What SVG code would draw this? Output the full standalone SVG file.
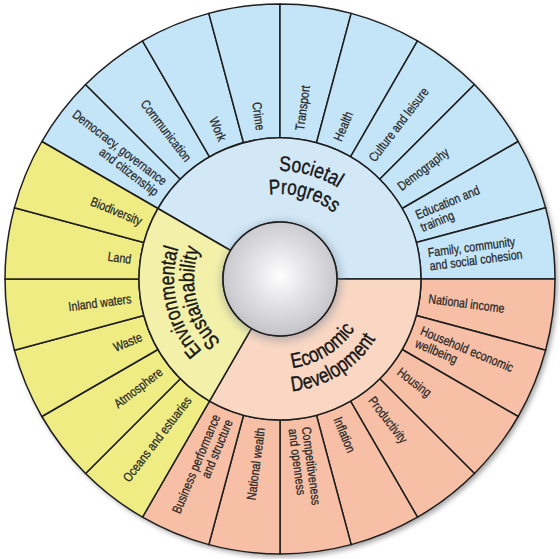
<svg xmlns="http://www.w3.org/2000/svg" width="560" height="559" viewBox="0 0 560 559">
<defs>
<style>
.seg{stroke:#1e1e1e;stroke-width:1.5;stroke-linejoin:round}
.b{fill:#c4e5f7}.y{fill:#efec84}.r{fill:#f6bfa6}
.bi{fill:#d3e8f7}.yi{fill:#f3f0a9}.ri{fill:#f9d7c3}
.lbl{font-family:'Liberation Sans',Arial,sans-serif;font-size:13px;fill:#262626;stroke:#262626;stroke-width:0.25}
.in{text-anchor:end}
.cat{font-family:'Liberation Sans',Arial,sans-serif;font-size:21px;fill:#161616;stroke:#161616;stroke-width:0.4;text-anchor:middle}
</style>
<filter id="sh" x="-10%" y="-10%" width="120%" height="120%">
<feDropShadow dx="2.5" dy="3" stdDeviation="2.5" flood-color="#000" flood-opacity="0.35"/>
</filter>
<filter id="glow" x="-30%" y="-30%" width="160%" height="160%">
<feGaussianBlur stdDeviation="4"/>
</filter>
<radialGradient id="hub" cx="0.5" cy="0.47" r="0.55">
<stop offset="0" stop-color="#ffffff"/>
<stop offset="0.12" stop-color="#f7f7f8"/>
<stop offset="0.45" stop-color="#e3e3e6"/>
<stop offset="0.8" stop-color="#cfcfd3"/>
<stop offset="1" stop-color="#bfbfc4"/>
</radialGradient>
<path id="arcS1" d="M 204.98 201.31 A 108 108 0 0 1 384.79 252.87"/>
<path id="arcS2" d="M 220.95 217.86 A 85 85 0 0 1 362.48 258.44"/>
<path id="arcV1" d="M 249.01 380.37 A 106 106 0 0 1 207.71 201.48"/>
<path id="arcV2" d="M 254.86 361.24 A 86 86 0 0 1 221.35 216.10"/>
<path id="arcE1" d="M 237.75 358.47 A 90 90 0 0 0 369.95 275.86"/>
<path id="arcE2" d="M 226.95 378.77 A 113 113 0 0 0 392.93 275.06"/>
</defs>

<circle cx="280" cy="279" r="275" fill="#ccc" filter="url(#sh)"/>

<!-- Societal progress outer segments -->
<g id="democracy"><path class="seg b" d="M 157.89 208.5 L 41.84 141.5 A 275 275 0 0 1 85.55 84.55 L 180.30 179.30 A 141 141 0 0 0 157.89 208.5 Z"/>
<g transform="translate(280 279) rotate(37.5) scale(0.82 1)"><text class="lbl in" x="-182.9" y="-2.25">Democracy, governance</text><text class="lbl in" x="-182.9" y="11.25">and citizenship</text></g></g>
<g id="communication"><path class="seg b" d="M 180.30 179.30 L 85.55 84.55 A 275 275 0 0 1 142.5 40.84 L 209.5 156.89 A 141 141 0 0 0 180.30 179.30 Z"/>
<g transform="translate(280 279) rotate(52.5) scale(0.82 1)"><text class="lbl in" x="-182.9" y="4.5">Communication</text></g></g>
<g id="work"><path class="seg b" d="M 209.5 156.89 L 142.5 40.84 A 275 275 0 0 1 208.82 13.37 L 243.51 142.80 A 141 141 0 0 0 209.5 156.89 Z"/>
<g transform="translate(280 279) rotate(67.5) scale(0.82 1)"><text class="lbl in" x="-182.9" y="4.5">Work</text></g></g>
<g id="crime"><path class="seg b" d="M 243.51 142.80 L 208.82 13.37 A 275 275 0 0 1 280 4 L 280 138 A 141 141 0 0 0 243.51 142.80 Z"/>
<g transform="translate(280 279) rotate(82.5) scale(0.82 1)"><text class="lbl in" x="-182.9" y="4.5">Crime</text></g></g>
<g id="transport"><path class="seg b" d="M 280 138 L 280 4 A 275 275 0 0 1 351.18 13.37 L 316.49 142.80 A 141 141 0 0 0 280 138 Z"/>
<g transform="translate(280 279) rotate(-82.5) scale(0.82 1)"><text class="lbl" x="182.9" y="4.5">Transport</text></g></g>
<g id="health"><path class="seg b" d="M 316.49 142.80 L 351.18 13.37 A 275 275 0 0 1 417.5 40.84 L 350.5 156.89 A 141 141 0 0 0 316.49 142.80 Z"/>
<g transform="translate(280 279) rotate(-67.5) scale(0.82 1)"><text class="lbl" x="182.9" y="4.5">Health</text></g></g>
<g id="culture"><path class="seg b" d="M 350.5 156.89 L 417.5 40.84 A 275 275 0 0 1 474.45 84.55 L 379.70 179.30 A 141 141 0 0 0 350.5 156.89 Z"/>
<g transform="translate(280 279) rotate(-52.5) scale(0.82 1)"><text class="lbl" x="182.9" y="4.5">Culture and leisure</text></g></g>
<g id="demography"><path class="seg b" d="M 379.70 179.30 L 474.45 84.55 A 275 275 0 0 1 518.16 141.5 L 402.11 208.5 A 141 141 0 0 0 379.70 179.30 Z"/>
<g transform="translate(280 279) rotate(-37.5) scale(0.82 1)"><text class="lbl" x="182.9" y="4.5">Demography</text></g></g>
<g id="education"><path class="seg b" d="M 402.11 208.5 L 518.16 141.5 A 275 275 0 0 1 545.63 207.82 L 416.20 242.51 A 141 141 0 0 0 402.11 208.5 Z"/>
<g transform="translate(280 279) rotate(-22.5) scale(0.82 1)"><text class="lbl" x="182.9" y="-2.25">Education and</text><text class="lbl" x="182.9" y="11.25">training</text></g></g>
<g id="family"><path class="seg b" d="M 416.20 242.51 L 545.63 207.82 A 275 275 0 0 1 555 279 L 421 279 A 141 141 0 0 0 416.20 242.51 Z"/>
<g transform="translate(280 279) rotate(-7.5) scale(0.82 1)"><text class="lbl" x="182.9" y="-2.25">Family, community</text><text class="lbl" x="182.9" y="11.25">and social cohesion</text></g></g>

<!-- Economic development outer segments -->
<g id="national-income"><path class="seg r" d="M 421 279 L 555 279 A 275 275 0 0 1 545.63 350.18 L 416.20 315.49 A 141 141 0 0 0 421 279 Z"/>
<g transform="translate(280 279) rotate(7.5) scale(0.82 1)"><text class="lbl" x="182.9" y="4.5">National income</text></g></g>
<g id="household"><path class="seg r" d="M 416.20 315.49 L 545.63 350.18 A 275 275 0 0 1 518.16 416.5 L 402.11 349.5 A 141 141 0 0 0 416.20 315.49 Z"/>
<g transform="translate(280 279) rotate(22.5) scale(0.82 1)"><text class="lbl" x="182.9" y="-2.25">Household economic</text><text class="lbl" x="182.9" y="11.25">wellbeing</text></g></g>
<g id="housing"><path class="seg r" d="M 402.11 349.5 L 518.16 416.5 A 275 275 0 0 1 474.45 473.45 L 379.70 378.70 A 141 141 0 0 0 402.11 349.5 Z"/>
<g transform="translate(280 279) rotate(37.5) scale(0.82 1)"><text class="lbl" x="182.9" y="4.5">Housing</text></g></g>
<g id="productivity"><path class="seg r" d="M 379.70 378.70 L 474.45 473.45 A 275 275 0 0 1 417.5 517.16 L 350.5 401.11 A 141 141 0 0 0 379.70 378.70 Z"/>
<g transform="translate(280 279) rotate(52.5) scale(0.82 1)"><text class="lbl" x="182.9" y="4.5">Productivity</text></g></g>
<g id="inflation"><path class="seg r" d="M 350.5 401.11 L 417.5 517.16 A 275 275 0 0 1 351.18 544.63 L 316.49 415.20 A 141 141 0 0 0 350.5 401.11 Z"/>
<g transform="translate(280 279) rotate(67.5) scale(0.82 1)"><text class="lbl" x="182.9" y="4.5">Inflation</text></g></g>
<g id="competitiveness"><path class="seg r" d="M 316.49 415.20 L 351.18 544.63 A 275 275 0 0 1 280 554 L 280 420 A 141 141 0 0 0 316.49 415.20 Z"/>
<g transform="translate(280 279) rotate(82.5) scale(0.82 1)"><text class="lbl" x="182.9" y="-2.25">Competitiveness</text><text class="lbl" x="182.9" y="11.25">and openness</text></g></g>
<g id="national-wealth"><path class="seg r" d="M 280 420 L 280 554 A 275 275 0 0 1 208.82 544.63 L 243.51 415.20 A 141 141 0 0 0 280 420 Z"/>
<g transform="translate(280 279) rotate(-82.5) scale(0.82 1)"><text class="lbl in" x="-182.9" y="4.5">National wealth</text></g></g>
<g id="business"><path class="seg r" d="M 243.51 415.20 L 208.82 544.63 A 275 275 0 0 1 142.5 517.16 L 209.5 401.11 A 141 141 0 0 0 243.51 415.20 Z"/>
<g transform="translate(280 279) rotate(-67.5) scale(0.82 1)"><text class="lbl in" x="-182.9" y="-2.25">Business performance</text><text class="lbl in" x="-182.9" y="11.25">and structure</text></g></g>

<!-- Environmental sustainability outer segments -->
<g id="oceans"><path class="seg y" d="M 209.5 401.11 L 142.5 517.16 A 275 275 0 0 1 85.55 473.45 L 180.30 378.70 A 141 141 0 0 0 209.5 401.11 Z"/>
<g transform="translate(280 279) rotate(-52.5) scale(0.82 1)"><text class="lbl in" x="-182.9" y="4.5">Oceans and estuaries</text></g></g>
<g id="atmosphere"><path class="seg y" d="M 180.30 378.70 L 85.55 473.45 A 275 275 0 0 1 41.84 416.5 L 157.89 349.5 A 141 141 0 0 0 180.30 378.70 Z"/>
<g transform="translate(280 279) rotate(-37.5) scale(0.82 1)"><text class="lbl in" x="-182.9" y="4.5">Atmosphere</text></g></g>
<g id="waste"><path class="seg y" d="M 157.89 349.5 L 41.84 416.5 A 275 275 0 0 1 14.37 350.18 L 143.80 315.49 A 141 141 0 0 0 157.89 349.5 Z"/>
<g transform="translate(280 279) rotate(-22.5) scale(0.82 1)"><text class="lbl in" x="-182.9" y="4.5">Waste</text></g></g>
<g id="inland-waters"><path class="seg y" d="M 143.80 315.49 L 14.37 350.18 A 275 275 0 0 1 5 279 L 139 279 A 141 141 0 0 0 143.80 315.49 Z"/>
<g transform="translate(280 279) rotate(-7.5) scale(0.82 1)"><text class="lbl in" x="-182.9" y="4.5">Inland waters</text></g></g>
<g id="land"><path class="seg y" d="M 139 279 L 5 279 A 275 275 0 0 1 14.37 207.82 L 143.80 242.51 A 141 141 0 0 0 139 279 Z"/>
<g transform="translate(280 279) rotate(7.5) scale(0.82 1)"><text class="lbl in" x="-182.9" y="4.5">Land</text></g></g>
<g id="biodiversity"><path class="seg y" d="M 143.80 242.51 L 14.37 207.82 A 275 275 0 0 1 41.84 141.5 L 157.89 208.5 A 141 141 0 0 0 143.80 242.51 Z"/>
<g transform="translate(280 279) rotate(22.5) scale(0.82 1)"><text class="lbl in" x="-182.9" y="4.5">Biodiversity</text></g></g>

<!-- Category sectors -->
<g id="societal-progress"><path class="seg bi" d="M 230.64 250.5 L 157.89 208.5 A 141 141 0 0 1 421 279 L 337 279 A 57 57 0 0 0 230.64 250.5 Z"/>
<text class="cat"><textPath href="#arcS1" startOffset="50%" textLength="62" lengthAdjust="spacingAndGlyphs">Societal</textPath></text>
<text class="cat"><textPath href="#arcS2" startOffset="50%" textLength="69" lengthAdjust="spacingAndGlyphs">Progress</textPath></text></g>
<g id="economic-development"><path class="seg ri" d="M 337 279 L 421 279 A 141 141 0 0 1 209.5 401.11 L 251.5 328.36 A 57 57 0 0 0 337 279 Z"/>
<text class="cat"><textPath href="#arcE1" startOffset="50%" textLength="76" lengthAdjust="spacingAndGlyphs">Economic</textPath></text>
<text class="cat"><textPath href="#arcE2" startOffset="50%" textLength="102" lengthAdjust="spacingAndGlyphs">Development</textPath></text></g>
<g id="environmental-sustainability"><path class="seg yi" d="M 251.5 328.36 L 209.5 401.11 A 141 141 0 0 1 157.89 208.5 L 230.64 250.5 A 57 57 0 0 0 251.5 328.36 Z"/>
<text class="cat"><textPath href="#arcV1" startOffset="50%" textLength="110" lengthAdjust="spacingAndGlyphs">Environmental</textPath></text>
<text class="cat"><textPath href="#arcV2" startOffset="50%" textLength="101" lengthAdjust="spacingAndGlyphs">Sustainability</textPath></text></g>

<!-- Hub -->
<g id="hub">
<circle cx="281" cy="281" r="60" fill="#6f7f8f" opacity="0.45" filter="url(#glow)"/>
<circle cx="280" cy="279" r="57" fill="url(#hub)" stroke="#1e1e1e" stroke-width="1.6"/>
</g>
</svg>
